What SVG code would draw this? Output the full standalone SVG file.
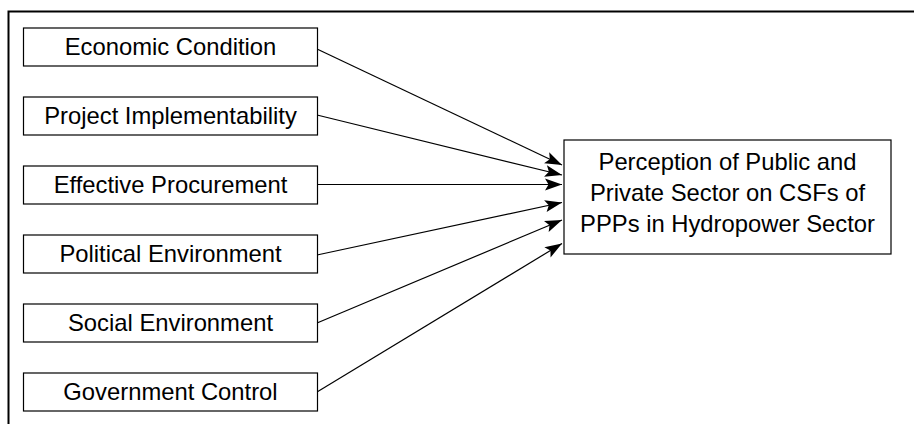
<svg xmlns="http://www.w3.org/2000/svg" width="914" height="424" viewBox="0 0 914 424">
<style>
  .box { fill: #ffffff; stroke: #000000; stroke-width: 1.2; }
  .lbl { font-family: "Liberation Sans", Arial, sans-serif; font-size: 23.8px; fill: #000000; text-anchor: middle; }
  .conn { fill: none; stroke: #000000; stroke-width: 1.2; marker-end: url(#arrow); }
  .frame { fill: none; stroke: #000000; stroke-width: 2; }
</style>
<defs>
  <marker id="arrow" markerUnits="userSpaceOnUse" markerWidth="20" markerHeight="14" viewBox="0 0 20 14" refX="18" refY="7" orient="auto">
    <path d="M1,1 L18,7 L1,13 L4.5,7 Z" fill="#000000"/>
  </marker>
</defs>
<rect x="0" y="0" width="914" height="424" fill="#ffffff"/>
<path class="frame" d="M8.5,424 V11.5 H914"/>

<g id="connectors">
  <line class="conn" x1="317" y1="49" x2="562" y2="165"/>
  <line class="conn" x1="317" y1="115" x2="562" y2="175"/>
  <line class="conn" x1="317" y1="184.5" x2="562" y2="184.5"/>
  <line class="conn" x1="317" y1="255" x2="562" y2="202.5"/>
  <line class="conn" x1="317" y1="323" x2="562" y2="220"/>
  <line class="conn" x1="317" y1="392" x2="562" y2="243.5"/>
</g>

<g id="economic-condition">
  <rect class="box" x="23.5" y="28" width="294" height="38"/>
  <text class="lbl" x="170.5" y="55">Economic Condition</text>
</g>
<g id="project-implementability">
  <rect class="box" x="23.5" y="97" width="294" height="38"/>
  <text class="lbl" x="170.5" y="124">Project Implementability</text>
</g>
<g id="effective-procurement">
  <rect class="box" x="23.5" y="166" width="294" height="38"/>
  <text class="lbl" x="170.5" y="193">Effective Procurement</text>
</g>
<g id="political-environment">
  <rect class="box" x="23.5" y="235" width="294" height="38"/>
  <text class="lbl" x="170.5" y="262">Political Environment</text>
</g>
<g id="social-environment">
  <rect class="box" x="23.5" y="304" width="294" height="38"/>
  <text class="lbl" x="170.5" y="331">Social Environment</text>
</g>
<g id="government-control">
  <rect class="box" x="23.5" y="373" width="294" height="38"/>
  <text class="lbl" x="170.5" y="400">Government Control</text>
</g>

<g id="perception">
  <rect class="box" x="564" y="140" width="327" height="114"/>
  <text class="lbl" x="727.5" y="170">Perception of Public and</text>
  <text class="lbl" x="727.5" y="201">Private Sector on CSFs of</text>
  <text class="lbl" x="727.5" y="232">PPPs in Hydropower Sector</text>
</g>
</svg>
